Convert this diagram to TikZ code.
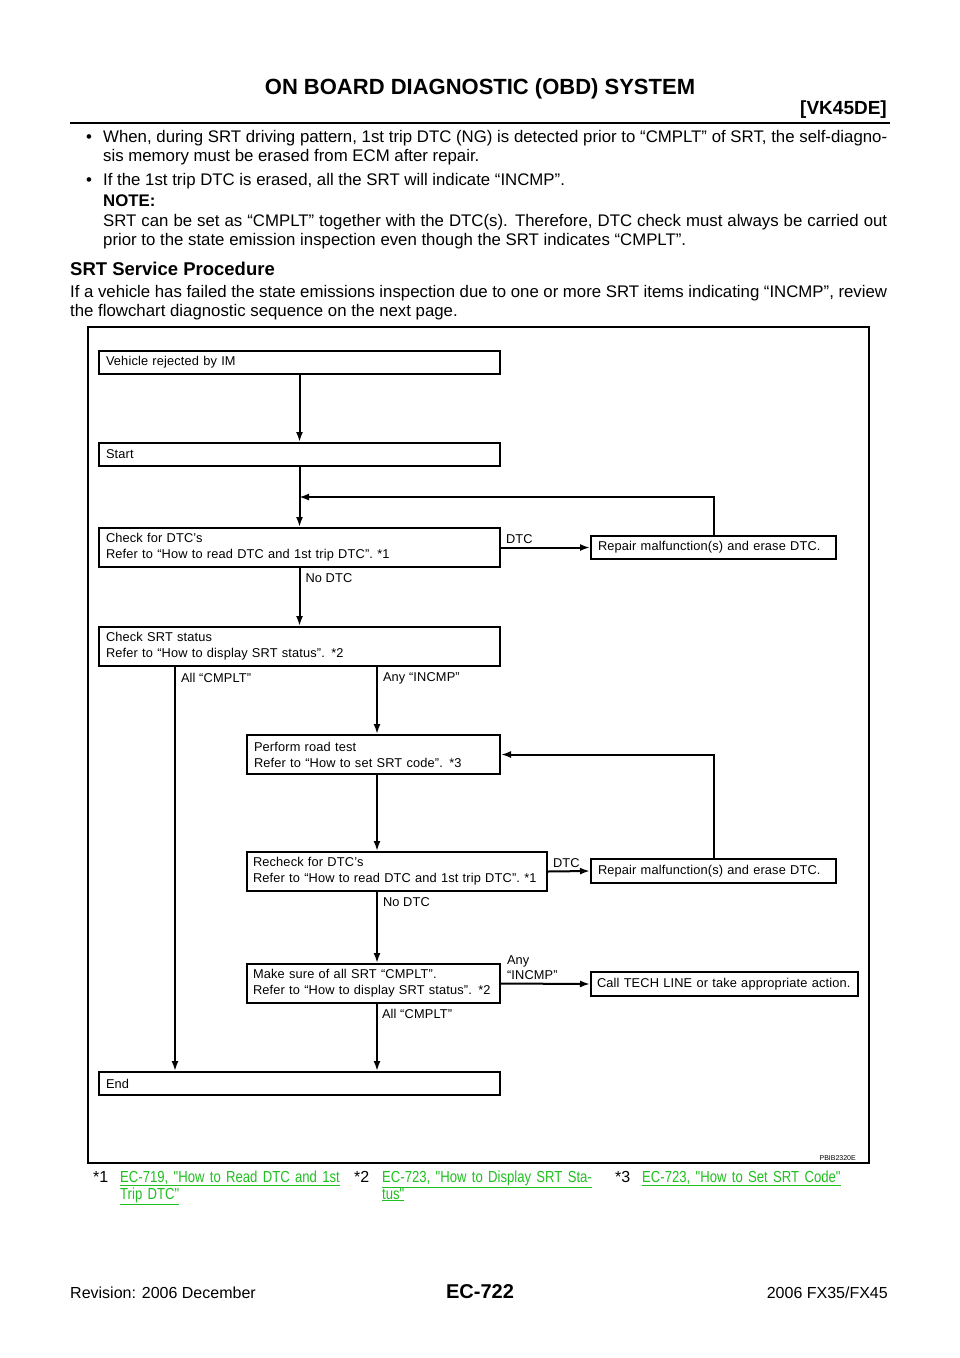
\documentclass[tikz,border=0pt]{standalone}
\usepackage{fontspec}
\setmainfont{Liberation Sans}
\newfontfamily\flowfont[LetterSpace=1.2]{Liberation Sans}
\newfontfamily\narrowfont[FakeStretch=0.82]{Liberation Sans}
\usetikzlibrary{arrows.meta,positioning}
\definecolor{lnk}{HTML}{1FBF1F}
\tikzset{
  every picture/.style={x=1pt, y=-1pt, font=\fontsize{16.8}{19}\selectfont},
  fbox/.style={draw, line width=2pt, anchor=north west, align=left,
    inner xsep=7pt, inner ysep=0pt, font=\flowfont\fontsize{12.8}{16}\selectfont},
  arr/.style={line width=2pt, -{Latex[length=10pt,width=7pt]}},
  lbl/.style={font=\flowfont\fontsize{12.8}{15}\selectfont, align=left, inner sep=0pt},
  txt/.style={anchor=base west, inner sep=0pt, align=justify},
  fn/.style={anchor=base west, inner sep=0pt, align=left, text=lnk,
    font=\narrowfont\fontsize{16}{17}\selectfont},
}
\begin{document}
\begin{tikzpicture}
  \useasboundingbox (0,0) rectangle (960,1358);
  % page head
  \node[font=\bfseries\fontsize{22}{26}\selectfont, anchor=base, inner sep=0pt] (title) at (480,94) {ON BOARD DIAGNOSTIC (OBD) SYSTEM};
  \node[font=\bfseries\fontsize{19}{22}\selectfont, anchor=base east, inner sep=0pt] (eng) at (887,114) {[VK45DE]};
  \draw[line width=2.6pt] (70,123) -- (890,123);
  % notes
  \node[anchor=base, inner sep=0pt] (b1) at (89,142) {\textbullet};
  \node[txt, text width=784pt] (t1) at (103,142) {When, during SRT driving pattern, 1st trip DTC (NG) is detected prior to “CMPLT” of SRT, the self-diagno-\linebreak sis memory must be erased from ECM after repair.};
  \node[anchor=base, inner sep=0pt] (b2) at (89,185) {\textbullet};
  \node[txt] (t2) at (103,185) {If the 1st trip DTC is erased, all the SRT will indicate “INCMP”.};
  \node[txt, font=\bfseries\fontsize{16.8}{19}\selectfont] (note) at (103,206) {NOTE:};
  \node[txt, text width=784pt] (t3) at (103,226) {SRT can be set as “CMPLT” together with the DTC(s). Therefore, DTC check must always be carried out\linebreak prior to the state emission inspection even though the SRT indicates “CMPLT”.};
  \node[txt, font=\bfseries\fontsize{18.5}{22}\selectfont] (sec) at (70,275) {SRT Service Procedure};
  \node[txt, text width=817pt] (t4) at (70,297) {If a vehicle has failed the state emissions inspection due to one or more SRT items indicating “INCMP”, review\linebreak the flowchart diagnostic sequence on the next page.};
  % flowchart
  \draw[line width=1.3pt] (88,327) rectangle (869,1163);
  \coordinate (colA) at (175,0);
  \coordinate (colB) at (377,0);
  \coordinate (j1) at (299,497);
  \node[fbox, minimum width=401pt, minimum height=23pt, text width=387pt] (veh) at (98,350) {Vehicle rejected by IM};
  \node[fbox, minimum width=401pt, minimum height=23pt, text width=387pt] (start) at (98,442) {Start};
  \node[fbox, minimum width=401pt, minimum height=39pt, text width=387pt] (chk) at (98,527) {Check for DTC’s\\Refer to “How to read DTC and 1st trip DTC”. *1};
  \node[fbox, minimum width=245pt, minimum height=23pt, text width=231pt] (rep1) at (590,535) {Repair malfunction(s) and erase DTC.};
  \node[fbox, minimum width=401pt, minimum height=39pt, text width=387pt] (srt) at (98,626) {Check SRT status\\Refer to “How to display SRT status”. *2};
  \node[fbox, minimum width=253pt, minimum height=39pt, text width=239pt] (road) at (246,734) {Perform road test\\Refer to “How to set SRT code”. *3};
  \node[fbox, minimum width=300pt, minimum height=39pt, text width=288pt, inner xsep=6pt] (rec) at (246,851) {Recheck for DTC’s\\Refer to “How to read DTC and 1st trip DTC”. *1};
  \node[fbox, minimum width=245pt, minimum height=24pt, text width=231pt] (rep2) at (590,858) {Repair malfunction(s) and erase DTC.};
  \node[fbox, minimum width=253pt, minimum height=39pt, text width=241pt, inner xsep=6pt] (mk) at (246,963) {Make sure of all SRT “CMPLT”.\\Refer to “How to display SRT status”. *2};
  \node[fbox, minimum width=267pt, minimum height=24pt, text width=255pt, inner xsep=6pt] (call) at (590,971) {Call TECH LINE or take appropriate action.};
  \node[fbox, minimum width=401pt, minimum height=23pt, text width=387pt] (endb) at (98,1071) {End};
  % connectors
  \draw[arr] (veh) -- (start);
  \draw[arr] (start) -- (chk);
  \draw[arr] (rep1.north) |- (j1);
  \draw[arr] (chk.east) -- (rep1.west) node[lbl, pos=0, above right=3pt and 4pt] (l1) {DTC};
  \draw[arr] (chk) -- (srt) node[lbl, pos=0, below right=5pt and 5pt] (l2) {No DTC};
  \draw[arr] (srt.south -| colA) -- (endb.north -| colA) node[lbl, pos=0, below right=5pt and 5pt] (l3) {All “CMPLT”};
  \draw[arr] (srt.south -| colB) -- (road.north -| colB) node[lbl, pos=0, below right=5pt and 5pt] (l4) {Any “INCMP”};
  \draw[arr] (rep2.north) |- (road.east);
  \draw[arr] (road.south -| colB) -- (rec.north -| colB);
  \draw[arr] (rec.east) -- (rep2.west) node[lbl, pos=0, above right=3pt and 4pt] (l5) {DTC};
  \draw[arr] (rec.south -| colB) -- (mk.north -| colB) node[lbl, pos=0, below right=5pt and 5pt] (l6) {No DTC};
  \draw[arr] (mk.east) -- (call.west) node[lbl, pos=0, above right=3pt and 5pt] (l7) {Any\\“INCMP”};
  \draw[arr] (mk.south -| colB) -- (endb.north -| colB) node[lbl, pos=0, below right=4pt and 4pt] (l8) {All “CMPLT”};
  \node[anchor=base east, inner sep=0pt, font=\fontsize{7}{8}\selectfont] (code) at (856,1160) {PBIB2320E};
  % footnotes
  \node[txt, font=\fontsize{16}{17}\selectfont] (s1) at (93,1182) {*1};
  \node[fn, text width=230pt] (f1) at (120,1182) {\underline{EC-719, "How to Read DTC and 1st}\\\underline{Trip DTC"}};
  \node[txt, font=\fontsize{16}{17}\selectfont] (s2) at (354,1182) {*2};
  \node[fn, text width=230pt] (f2) at (382,1182) {\underline{EC-723, "How to Display SRT Sta-}\\\underline{tus"}};
  \node[txt, font=\fontsize{16}{17}\selectfont] (s3) at (615,1182) {*3};
  \node[fn, text width=230pt] (f3) at (642,1182) {\underline{EC-723, "How to Set SRT Code"}};
  % page foot
  \node[txt, font=\fontsize{16}{18}\selectfont] (rev) at (70,1298) {Revision: 2006 December};
  \node[anchor=base, inner sep=0pt, font=\bfseries\fontsize{20}{24}\selectfont] (pg) at (480,1298) {EC-722};
  \node[anchor=base east, inner sep=0pt, font=\fontsize{16}{18}\selectfont] (mdl) at (888,1298) {2006 FX35/FX45};
\end{tikzpicture}
\end{document}
